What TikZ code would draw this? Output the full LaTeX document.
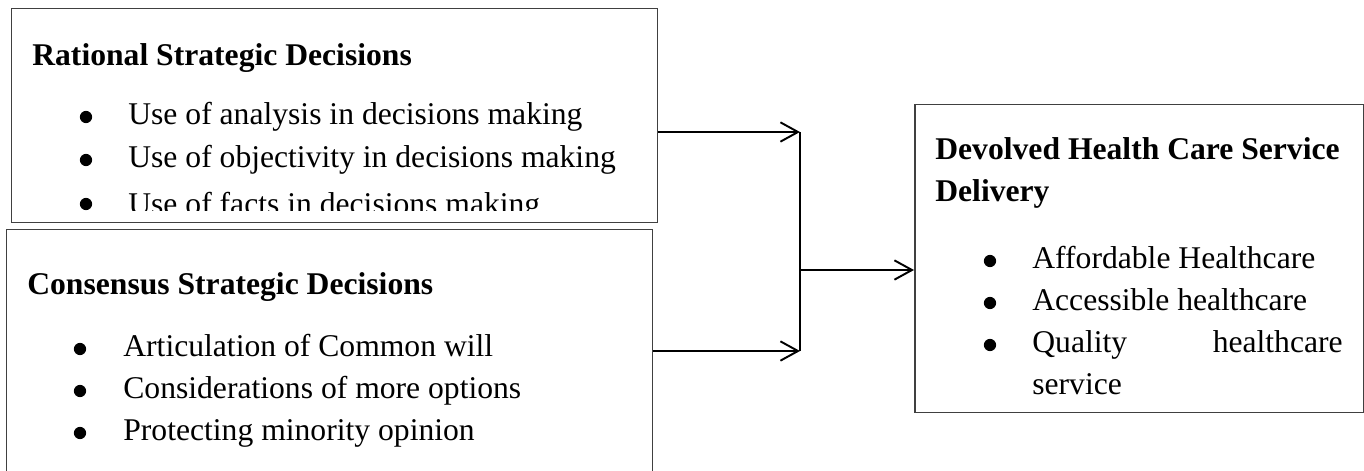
\documentclass[tikz,border=0pt]{standalone}
\usepackage{fontspec}
\setmainfont{Liberation Serif}
\usetikzlibrary{arrows.meta,positioning}

\begin{document}
\begin{tikzpicture}[
    x=0.02cm, y=-0.02cm,
    panel/.style={
        draw=black!75,
        line width=0.85pt,
        rectangle,
        inner sep=0pt,
        anchor=north west
    },
    head/.style={anchor=base west, inner sep=0pt, font=\fontsize{18}{21}\selectfont\bfseries},
    item/.style={anchor=base west, inner sep=0pt, font=\fontsize{18}{21}\selectfont},
    dot/.style={circle, fill=black, inner sep=0pt, minimum size=0.245cm},
    link/.style={line width=1.1pt},
    arrow/.style={link, -{Straight Barb[length=10pt, width=11pt]}}
]
\clip (0,0) rectangle (1364,470);

% ===== Boxes =====
\node[panel, minimum width=12.92cm, minimum height=4.28cm] (rsd) at (11,8) {};
\node[panel, minimum width=12.92cm, minimum height=5.2cm]  (csd) at (6,229) {};
\node[panel, minimum width=8.98cm,  minimum height=6.16cm] (dhc) at (914,104) {};

% ===== Rational (text cut at the box) =====
\begin{scope}
\clip (11,8) rectangle (657,210);
\node[head] (rsdT) at (32,65) {Rational Strategic Decisions};
\node[dot]  (rsdB1) at (86,117) {};
\node[item] (rsd1)  at (128,124) {Use of analysis in decisions making};
\node[dot]  (rsdB2) at (86,160) {};
\node[item] (rsd2)  at (128,167) {Use of objectivity in decisions making};
\node[dot]  (rsdB3) at (86,204) {};
\node[item] (rsd3)  at (128,214) {Use of facts in decisions making};
\end{scope}

% ===== Consensus =====
\node[head] (csdT) at (27,294) {Consensus Strategic Decisions};
\node[dot]  (csdB1) at (80,349) {};
\node[item] (csd1)  at (123,356) {Articulation of Common will};
\node[dot]  (csdB2) at (80,391) {};
\node[item] (csd2)  at (123,398) {Considerations of more options};
\node[dot]  (csdB3) at (80,433) {};
\node[item] (csd3)  at (123,440) {Protecting minority opinion};

% ===== Devolved =====
\node[head] (dhcT1) at (935,159) {Devolved Health Care Service};
\node[head] (dhcT2) at (935,201) {Delivery};
\node[dot]  (dhcB1) at (990,261) {};
\node[item] (dhc1)  at (1032,268) {Affordable Healthcare};
\node[dot]  (dhcB2) at (990,303) {};
\node[item] (dhc2)  at (1032,310) {Accessible healthcare};
\node[dot]  (dhcB3) at (990,345) {};
\node[item] (dhc3a) at (1032,352) {Quality};
\node[item, anchor=base east] (dhc3b) at (1343,352) {healthcare};
\node[item] (dhc3c) at (1032,394) {service};

% ===== Arrows =====
\coordinate (jtop) at (800,132);
\coordinate (jmid) at (800,270);
\coordinate (jbot) at (800,351);
\draw[arrow] (rsd.east |- jtop) -- (jtop);
\draw[arrow] (csd.east |- jbot) -- (jbot);
\draw[link] (jtop) -- (jbot);
\draw[arrow] (jmid) -- (jmid -| dhc.west);

\end{tikzpicture}
\end{document}
